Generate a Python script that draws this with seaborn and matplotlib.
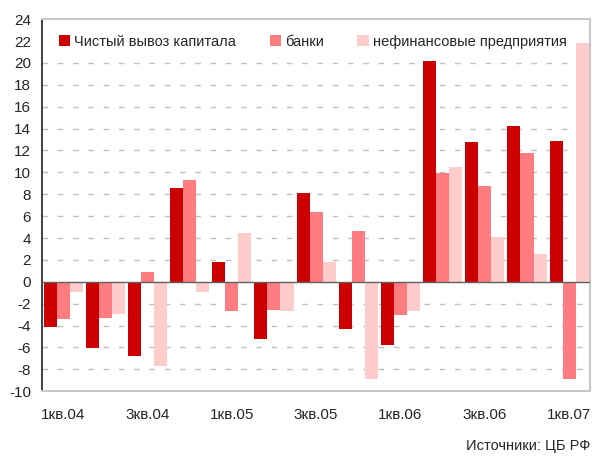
import pandas as pd
import matplotlib.pyplot as plt
import seaborn as sns

quarters = ["1кв.04", "2кв.04", "3кв.04", "4кв.04", "1кв.05", "2кв.05", "3кв.05",
            "4кв.05", "1кв.06", "2кв.06", "3кв.06", "4кв.06", "1кв.07"]
net_outflow = [-4.15, -6.05, -6.8, 8.55, 1.8, -5.25, 8.1, -4.35, -5.8, 20.2, 12.75, 14.2, 12.9]
banks = [-3.4, -3.35, 0.85, 9.3, -2.7, -2.6, 6.4, 4.65, -3.05, 9.9, 8.75, 11.75, -8.9]
nonfin = [-0.9, -2.9, -7.7, -0.9, 4.5, -2.7, 1.8, -8.9, -2.7, 10.5, 4.05, 2.5, 21.8]

series_names = ["Чистый вывоз капитала", "банки", "нефинансовые предприятия"]
colors = ["#CC0000", "#FF7C80", "#FFCCCC"]

df = pd.DataFrame({
    "quarter": quarters * 3,
    "value": net_outflow + banks + nonfin,
    "series": [series_names[0]] * 13 + [series_names[1]] * 13 + [series_names[2]] * 13,
})

sns.set_style("white")
plt.rcParams["font.family"] = ["Liberation Sans", "DejaVu Sans"]

fig = plt.figure(figsize=(5.92, 4.57), dpi=100)
ax = fig.add_axes([0.071, 0.144, 0.926, 0.814])

sns.barplot(data=df, x="quarter", y="value", hue="series", order=quarters,
            hue_order=series_names, palette=colors, width=0.93, gap=0,
            saturation=1, linewidth=0, ax=ax, legend=True)

ax.set_ylim(-10, 24)
ax.set_xlim(-0.5, 12.5)
ax.set_yticks(range(-10, 25, 2))
ax.set_yticklabels([str(v) for v in range(-10, 25, 2)], fontsize=11)
ax.set_xticks(range(0, 13, 2))
ax.set_xticklabels([quarters[i] for i in range(0, 13, 2)], fontsize=11)
ax.tick_params(axis="both", length=0, pad=8)
ax.tick_params(axis="x", pad=12)
ax.set_xlabel("")
ax.set_ylabel("")

# dashed gridlines (no line at 22 - legend row)
for y in range(-8, 22, 2):
    if y != 0:
        ax.axhline(y, color="#C0C0C0", lw=1, ls=(0, (4, 7)), zorder=0)
ax.axhline(0, color="#606060", lw=1, zorder=3)

for side in ["top", "right", "bottom"]:
    ax.spines[side].set_color("#C8C8C8")
    ax.spines[side].set_linewidth(1.5)
ax.spines["left"].set_color("#202020")
ax.spines["left"].set_linewidth(1.2)

ax.legend(loc="upper left", bbox_to_anchor=(0.012, 0.985), ncol=3, frameon=False,
          fontsize=10.5, handlelength=0.8, handleheight=0.8, handletextpad=0.25,
          columnspacing=2.3, borderaxespad=0.3)

fig.text(0.997, 0.008, "Источники: ЦБ РФ", ha="right", va="bottom", fontsize=10.5)

fig.savefig("out.png", dpi=100)
